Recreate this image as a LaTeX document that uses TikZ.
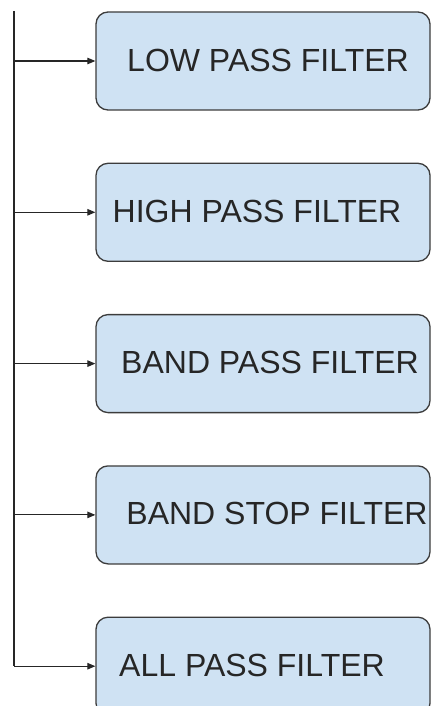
\documentclass[tikz,border=0pt]{standalone}
\usepackage{fontspec}
\setmainfont{Liberation Sans}
\usetikzlibrary{arrows.meta, positioning}
\definecolor{boxfill}{RGB}{207, 226, 243}
\definecolor{boxline}{RGB}{60, 60, 60}

\tikzset{
    filterbox/.style={draw=boxline, line width=1.3pt, fill=boxfill, rounded corners=12pt,
        minimum width=334pt, minimum height=98pt, inner sep=0pt},
    filtertext/.style={font=\fontsize{32}{38}\selectfont, text=black!85, inner sep=0pt},
    feed/.style={->, line width=1.1pt, black!85}
}

\begin{document}
\begin{tikzpicture}[x=1pt, y=1pt, >={Triangle[length=8pt, width=6.5pt]}]

    % fixed frame, same proportions as the page
    \useasboundingbox (0,0) rectangle (432,-706);

    % ==========================================
    % --- Filter boxes ---
    % ==========================================
    \node[filterbox] (lpf) at (263,-61) {};
    \node[filterbox, below=52pt of lpf] (hpf) {};
    \node[filterbox, below=52pt of hpf] (bpf) {};
    \node[filterbox, below=52pt of bpf] (bsf) {};
    \node[filterbox, below=52pt of bsf] (apf) {};

    % Box labels (slightly off centre, as drawn)
    \foreach \flt/\dx/\name in {lpf/5/LOW PASS FILTER, hpf/-6/HIGH PASS FILTER,
            bpf/7/BAND PASS FILTER, bsf/14/BAND STOP FILTER, apf/-11/ALL PASS FILTER}
        \node[filtertext, xshift=\dx pt, yshift=1pt] (\flt-txt) at (\flt) {\name};

    % ==========================================
    % --- Input bus and feeds ---
    % ==========================================
    \coordinate (bustop) at (14,-11);
    \coordinate (busbot) at (bustop |- apf.west);
    \draw[line width=1.1pt, black!85] (bustop) -- (busbot);

    \foreach \flt in {lpf, hpf, bpf, bsf}
        \draw[feed] (bustop |- \flt.west) -- (\flt.west);
    \draw[feed] (busbot) -- (apf.west);

\end{tikzpicture}
\end{document}
